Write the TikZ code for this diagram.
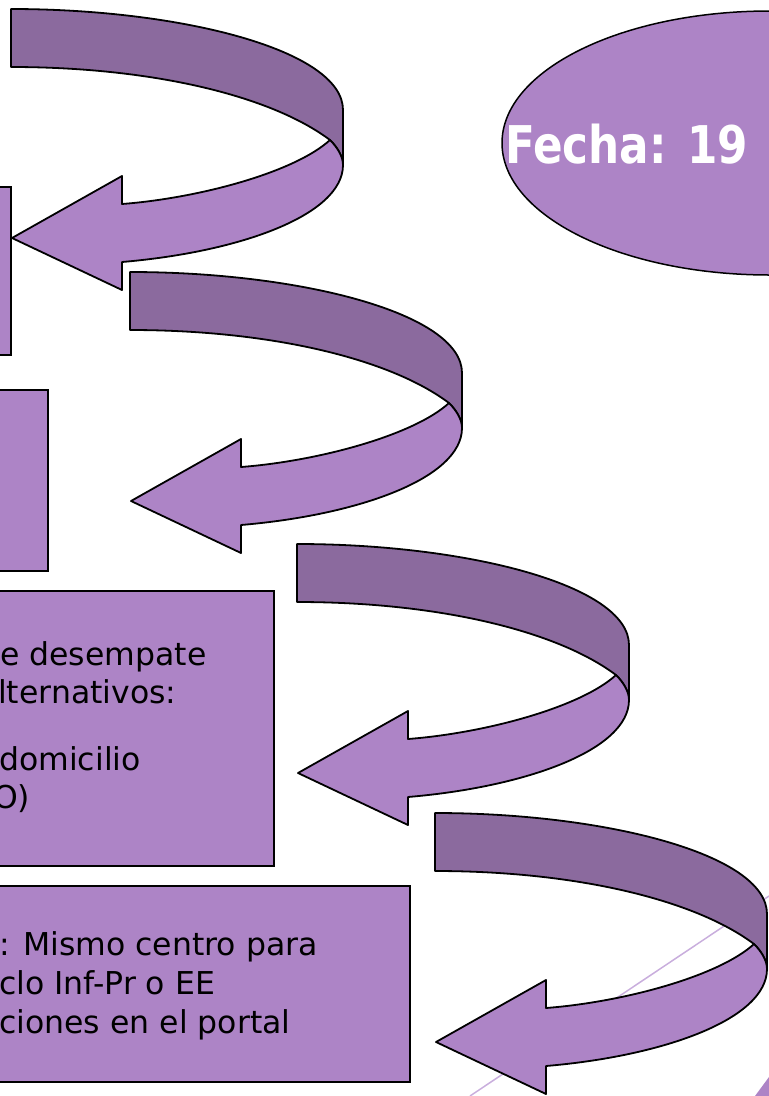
\documentclass[tikz,border=0pt]{standalone}
\usepackage{fontspec}
\setmainfont{DejaVu Sans}
\usetikzlibrary{shapes.geometric}
\definecolor{lightp}{HTML}{AD84C6}
\definecolor{darkp}{HTML}{8B6A9E}
\definecolor{linep}{HTML}{C9AEDD}
\tikzset{
  box/.style={draw=black, line width=1.8pt, fill=lightp, inner sep=0pt, outer sep=0pt},
  bodytext/.style={anchor=base west, inner sep=0pt, font=\fontsize{31.5}{38}\selectfont, text=black},
  ribbon/.style={draw=black, line width=1.8pt, line join=round},
  curvarrow/.pic={
    \path[ribbon, fill=darkp] (11,9) .. controls (180,9) and (343,50) .. (343,110)
      -- (343,165) .. controls (343,157) and (338,148) .. (330,140)
      .. controls (270,95) and (150,67) .. (11,67) -- cycle;
    \path[ribbon, fill=lightp] (330,140) .. controls (338,148) and (343,157) .. (343,165)
      .. controls (343,215) and (240,252) .. (122,262) -- (122,290) -- (12,238)
      -- (122,176) -- (122,204) .. controls (200,198) and (295,172) .. (330,140) -- cycle;
  }
}
\begin{document}
\begin{tikzpicture}[x=1pt,y=-1pt]
\useasboundingbox (0,0) rectangle (769,1096);
\clip (0,0) rectangle (769,1096);
% thin diagonal line
\coordinate (l1) at (470,1096);
\coordinate (l2) at (769,896);
\draw[linep, line width=1.5pt] (l1) -- (l2);
% boxes
\node[box, minimum width=31pt, minimum height=168pt] (b1) at (-4.5,271) {};
\node[box, minimum width=68pt, minimum height=181pt] (b2) at (14,480.5) {};
\node[box, minimum width=294pt, minimum height=275pt] (b3) at (127,728.5) {};
\node[box, minimum width=430pt, minimum height=196pt] (b4) at (195,984) {};
% ellipse
\node[ellipse, draw=black, line width=1.5pt, fill=lightp, minimum width=536pt, minimum height=264pt, inner sep=0pt] (ell) at (770,143) {};
\node[anchor=base west, inner sep=0pt, text=white, font=\fontsize{52}{60}\selectfont\bfseries] (fecha) at (505,163) {\scalebox{0.84}[1]{Fecha: 19}};
% arrows
\pic at (0,0) {curvarrow};
\pic at (119,263) {curvarrow};
\pic at (286,535) {curvarrow};
\pic at (424,804) {curvarrow};
% corner shape
\fill[lightp] (755,1096) -- (769,1077) -- (769,1096) -- cycle;
% texts
\node[bodytext] (t31) at (0,665) {e desempate};
\node[bodytext] (t32) at (-2,703) {lternativos:};
\node[bodytext] (t33) at (-1,770) {domicilio};
\node[bodytext] (t34) at (-7,808) {O)};
\node[bodytext] (t41) at (-1,955) {: Mismo centro para};
\node[bodytext] (t42) at (-1,994) {clo Inf-Pr o EE};
\node[bodytext] (t43) at (-1,1033) {ciones en el portal};
\end{tikzpicture}
\end{document}
